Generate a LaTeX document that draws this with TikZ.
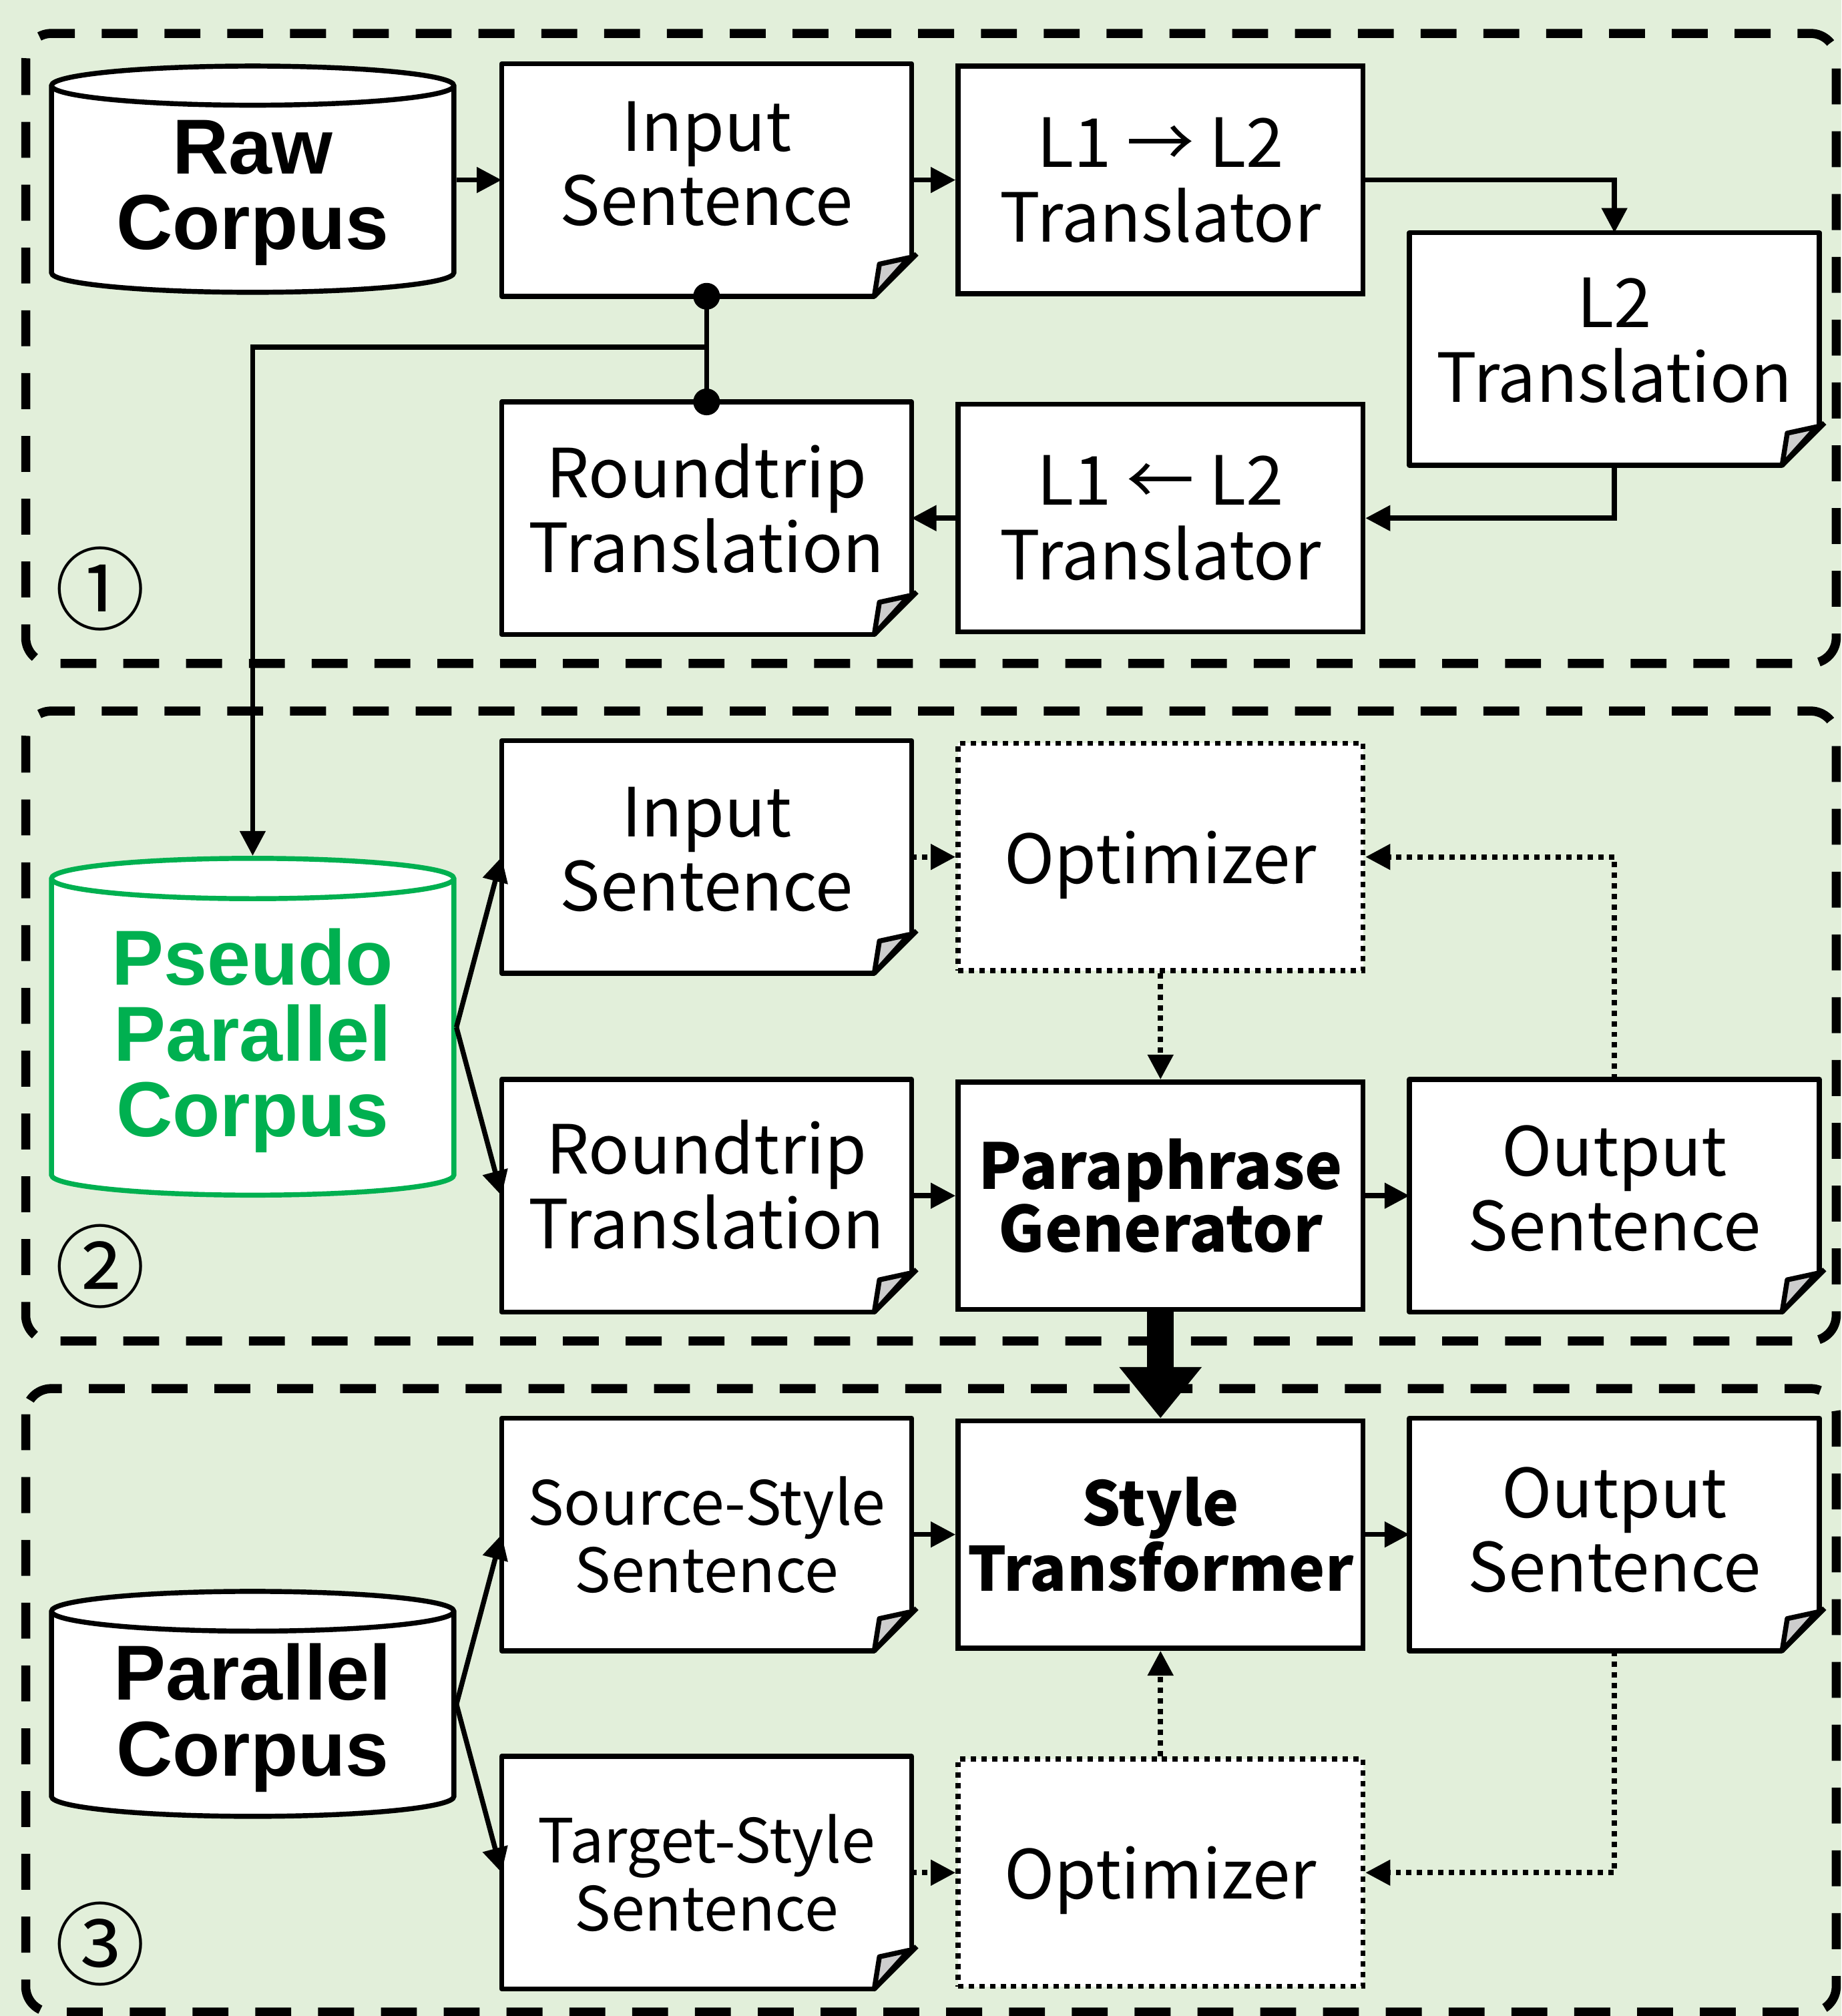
\documentclass[tikz,border=0pt]{standalone}
\usepackage{fontspec}
\setmainfont{Noto Sans CJK JP}
\newfontfamily\corpusfont{Liberation Sans}
\usetikzlibrary{arrows.meta,positioning,shapes.geometric,calc}
\definecolor{bggreen}{RGB}{226,239,218}
\definecolor{pseudogreen}{RGB}{0,176,80}
\definecolor{flapgray}{RGB}{205,205,205}
\newcommand\bxfont{\fontsize{30}{33}\selectfont}
\newcommand\smfont{\fontsize{27}{30}\selectfont}
\newcommand\bdfont{\bfseries\fontsize{28}{27}\selectfont}
\newcommand\corpfont{\corpusfont\bfseries\fontsize{34.5}{33.5}\selectfont}
\tikzset{
    %Define standard arrow tip
    >={Triangle[length=11pt,width=11pt]},
    %Define style for boxes
    pbox/.style={
           rectangle,
           draw=black, line width=2.2pt,
           fill=white,
           inner xsep=2pt,
           minimum width=6.3cm,
           minimum height=3.54cm,
           align=center,
           font=\bxfont},
    optbox/.style={
           pbox,
           text depth=0pt,
           dash pattern=on 2.35pt off 2.35pt},
    docbox/.style={
           pbox,
           draw=none,
           text depth=7pt},
    docln/.style={
           draw=black, line width=2.2pt,
           line join=round},
    cyl/.style={
           cylinder,
           shape border rotate=90,
           aspect=0.136,
           draw=black, line width=2.2pt,
           fill=white,
           minimum width=6.26cm,
           minimum height=3.52cm,
           align=center,
           font=\corpfont},
    group/.style={
           draw=black, line width=4pt,
           rounded corners=0.4cm,
           dash pattern=on 15.9pt off 11.9pt},
    numlabel/.style={
           font=\fontsize{40}{40}\selectfont,
           inner sep=0pt},
    % Define arrow style
    arr/.style={
           ->,
           line width=2.2pt},
    dotarr/.style={
           ->,
           line width=2.3pt,
           dash pattern=on 2.35pt off 2.35pt},
    bigarr/.style={
           -{Triangle[length=22.7pt,width=35.1pt]},
           line width=11.9pt}
}
\begin{document}
\begin{tikzpicture}[x=0.02cm, y=-0.02cm]
    \useasboundingbox[fill=bggreen] (0,0) rectangle (1432,1568);

    % GROUPS
    \draw[group] (20,26) rectangle (1428,516);
    \draw[group] (20,553) rectangle (1428,1043);
    \draw[group] (20,1080) rectangle (1428,1565);

    \node[numlabel] (n1) at (78,458) {①};
    \node[numlabel] (n2) at (78,985) {②};
    \node[numlabel] (n3) at (78,1512) {③};

    % STEP 1
    \node[cyl] at (196.5,150) (raw) {Raw\\Corpus};
    \node[docbox, text depth=14.7pt] at (549.5,140) (inA) {Input\\Sentence};
    \node[pbox] at (902.5,140) (trA) {L1 → L2\\Translator};
    \node[docbox, text depth=8pt] at (1255.5,271.5) (l2t) {L2\\Translation};
    \node[docbox, text depth=9pt] at (549.5,403) (rtA) {Roundtrip\\Translation};
    \node[pbox] at (902.5,403) (trB) {L1 ← L2\\Translator};

    % STEP 2
    \node[cyl, draw=pseudogreen, text=pseudogreen, minimum height=5.24cm] at (196.5,809.5) (pseudo) {Pseudo\\Parallel\\Corpus};
    \node[docbox] at (549.5,666.5) (inB) {Input\\Sentence};
    \node[optbox] at (902.5,666.5) (optB) {Optimizer};
    \node[docbox, text depth=10pt] at (549.5,930) (rtB) {Roundtrip\\Translation};
    \node[pbox, font=\bdfont] at (902.5,930) (para) {Paraphrase\\Generator};
    \node[docbox] at (1255.5,930) (outB) {Output\\Sentence};

    % STEP 3
    \node[cyl, minimum height=3.5cm] at (196.5,1336) (par) {Parallel\\Corpus};
    \node[docbox, font=\smfont, text depth=0pt] at (549.5,1193.5) (srcS) {Source-Style\\Sentence};
    \node[pbox, font=\bfseries\fontsize{27}{27}\selectfont] at (902.5,1193.5) (style) {Style\\Transformer};
    \node[docbox, text depth=4.5pt] at (1255.5,1193.5) (outC) {Output\\Sentence};
    \node[docbox, font=\smfont, text depth=0pt] at (549.5,1456.5) (tgtS) {Target-Style\\Sentence};
    \node[optbox] at (902.5,1456.5) (optC) {Optimizer};

    % document outlines with folded corner
    \foreach \n in {inA,l2t,rtA,inB,rtB,outB,srcS,outC,tgtS}{
        \fill[bggreen] ($(\n.south east)+(-29,0)$) -- (\n.south east) -- ($(\n.south east)+(0,-29)$) -- cycle;
        \draw[docln] ($(\n.south east)+(-29,0)$) -- (\n.south west) -- (\n.north west) -- (\n.north east) -- ($(\n.south east)+(0,-29)$);
        \draw[docln] ($(\n.south east)+(-29,0)$) -- ($(\n.south east)+(4,-33)$);
        \filldraw[docln, fill=flapgray] ($(\n.south east)+(-29,0)$) -- ($(\n.south east)+(-25,-25)$) -- ($(\n.south east)+(-2,-30)$) -- cycle;
    }

    % CONNECTORS
    \path[arr] (raw.east |- inA.west) edge (inA.west);
    \path[arr] (inA.east) edge (trA.west);
    \draw[arr] (trA.east) -| (l2t.north);
    \draw[arr] (l2t.south) |- (trB.east);
    \path[arr] (trB.west) edge (rtA.east);

    \coordinate (split) at (549.5,270);
    \draw[line width=2.2pt] (inA.south) -- (rtA.north);
    \fill (inA.south) circle (0.208cm);
    \fill (rtA.north) circle (0.208cm);
    \draw[arr] (split) -| (pseudo.north);

    \path[arr] ($(pseudo.east)+(0,-10.5)$) edge (inB.west);
    \path[arr] ($(pseudo.east)+(0,-10.5)$) edge (rtB.west);
    \draw[dotarr] (inB.east) -- (optB.west);
    \draw[dotarr] (optB.south) -- (para.north);
    \draw[dotarr] (outB.north) |- (optB.east);
    \path[arr] (rtB.east) edge (para.west);
    \path[arr] (para.east) edge (outB.west);

    \draw[bigarr] (para.south) -- (style.north);

    \path[arr] ($(par.east)+(0,-10.5)$) edge (srcS.west);
    \path[arr] ($(par.east)+(0,-10.5)$) edge (tgtS.west);
    \path[arr] (srcS.east) edge (style.west);
    \path[arr] (style.east) edge (outC.west);
    \draw[dotarr] (outC.south) |- (optC.east);
    \draw[dotarr] (tgtS.east) -- (optC.west);
    \draw[dotarr] (optC.north) -- (style.south);

\end{tikzpicture}
\end{document}
